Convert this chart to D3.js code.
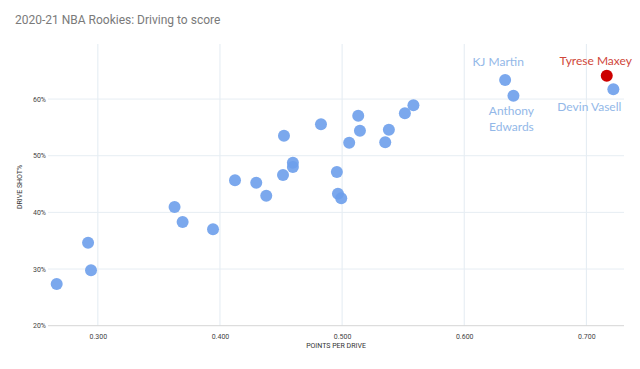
<!DOCTYPE html>
<html><head><meta charset="utf-8">
<script src="https://cdn.jsdelivr.net/npm/d3@7"></script>
<style>body{margin:0;background:#fff}svg{display:block}</style>
</head><body>
<svg id="c" width="640" height="369"></svg>
<script>
const ppd = [0.2663,0.2920,0.2944,0.3628,0.3694,0.3943,0.4123,0.4297,0.4379,0.4524,0.4516,0.4597,0.4597,0.4827,0.4957,0.4966,0.4993,0.5058,0.5132,0.5146,0.5353,0.5383,0.5514,0.5584,0.6335,0.6403,0.7167,0.7221];
const shotPct = [0.2736,0.3465,0.2978,0.4095,0.3830,0.3701,0.4566,0.4523,0.4294,0.5353,0.4659,0.4876,0.4800,0.5554,0.4712,0.4329,0.4248,0.5229,0.5706,0.5441,0.5236,0.5459,0.5748,0.5889,0.6336,0.6059,0.6412,0.6172];
const names = ["","","","","","","","","","","","","","","","","","","","","","","","","KJ Martin","Anthony Edwards","Tyrese Maxey","Devin Vasell"];
const highlight = "Tyrese Maxey";
const xTicks = [0.3,0.4,0.5,0.6,0.7];
const yTicks = [0.2,0.3,0.4,0.5,0.6];
const labels = [
  {name:"KJ Martin", lines:["KJ Martin"], dx:-7, dy:-14},
  {name:"Anthony Edwards", lines:["Anthony","Edwards"], dx:-2, dy:19},
  {name:"Tyrese Maxey", lines:["Tyrese Maxey"], dx:-11, dy:-11},
  {name:"Devin Vasell", lines:["Devin Vasell"], dx:-24, dy:22}
];

const svg = d3.select("#c");
const x = d3.scaleLinear().domain([0.26,0.73]).range([49,623]);
const y = d3.scaleLinear().domain([0.2,0.7]).range([325.7,42.4]);

svg.append("text").attr("x",15).attr("y",24).text("2020-21 NBA Rookies: Driving to score")
  .attr("font-family","Roboto").attr("font-size",12).attr("fill","#7a7a7a");

const g = svg.append("g");
g.selectAll(".vg").data(xTicks).join("line")
  .attr("x1",d=>x(d)).attr("x2",d=>x(d)).attr("y1",44).attr("y2",325.7)
  .attr("stroke","#e3ebf2").attr("stroke-width",1);
g.selectAll(".hg").data(yTicks.slice(1)).join("line")
  .attr("x1",48).attr("x2",624).attr("y1",d=>y(d)).attr("y2",d=>y(d))
  .attr("stroke","#e6edf3").attr("stroke-width",1);
g.append("line").attr("x1",48).attr("x2",624).attr("y1",y(0.2)).attr("y2",y(0.2))
  .attr("stroke","#d6d6d6");

const xAxis = svg.append("g").attr("transform",`translate(0,${y(0.2)})`)
  .call(d3.axisBottom(x).tickValues(xTicks).tickFormat(d3.format(".3f")).tickSize(0).tickPadding(8));
const yAxis = svg.append("g").attr("transform",`translate(46,0)`)
  .call(d3.axisLeft(y).tickValues(yTicks).tickFormat(d3.format(".0%")).tickSize(0).tickPadding(0));
[xAxis,yAxis].forEach(a=>{
  a.select(".domain").remove();
  a.selectAll("text").attr("font-family","Roboto").attr("font-size",7).attr("fill","#444");
});

svg.append("text").attr("x",336).attr("y",348).attr("text-anchor","middle")
  .text("POINTS PER DRIVE").attr("font-family","Roboto").attr("font-size",7).attr("fill","#333");
svg.append("text").attr("transform","translate(22,187) rotate(-90)").attr("text-anchor","middle")
  .text("DRIVE SHOT%").attr("font-family","Roboto").attr("font-size",7).attr("fill","#333");

const data = ppd.map((v,i)=>({x:v,y:shotPct[i],name:names[i]}));
svg.append("g").selectAll("circle").data(data).join("circle")
  .attr("cx",d=>x(d.x)).attr("cy",d=>y(d.y)).attr("r",6)
  .attr("fill",d=>d.name===highlight?"#cc0000":"#6d9eeb")
  .attr("fill-opacity",d=>d.name===highlight?1:0.9);

const byName = Object.fromEntries(data.filter(d=>d.name).map(d=>[d.name,d]));
labels.forEach(l=>{
  const d = byName[l.name];
  const t = svg.append("text").attr("text-anchor","middle")
    .attr("font-family","Lato").attr("font-size",12)
    .attr("fill", l.name===highlight?"#d0473a":"#93b8e8");
  l.lines.forEach((s,i)=>{
    t.append("tspan").attr("x",x(d.x)+l.dx).attr("y",y(d.y)+l.dy+i*16).text(s);
  });
});
</script>
</body></html>
